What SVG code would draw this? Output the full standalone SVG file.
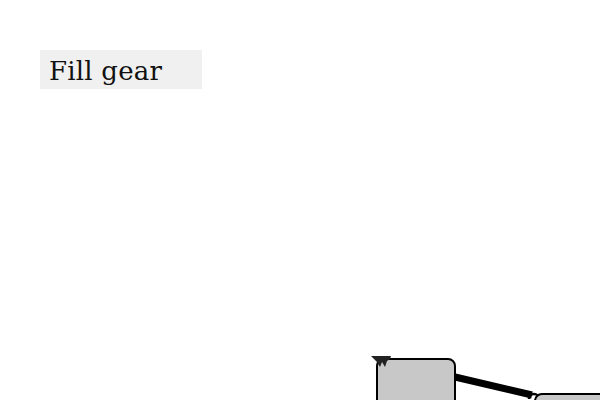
<svg xmlns="http://www.w3.org/2000/svg" width="600" height="400" viewBox="0 0 600 400">
<style>
.node{fill:#c8c8c8;stroke:#000;stroke-width:2}
.lbl{font-family:"DejaVu Serif","Liberation Serif",serif;font-size:26px;fill:#111}
</style>
<rect width="600" height="400" fill="#fff"/>
<g id="title">
<rect x="40" y="50" width="162" height="39" fill="#f0f0f0"/>
<text class="lbl" x="49" y="80" textLength="113">Fill gear</text>
</g>
<g id="connectors">
<line x1="455" y1="377" x2="532" y2="395" stroke="#000" stroke-width="7"/>
<path d="M529 399 A5 5 0 0 1 539 399" fill="none" stroke="#000" stroke-width="2.5"/>
</g>
<g id="node1">
<rect class="node" x="377" y="359" width="78" height="60" rx="7"/>
<path d="M371 356 L391 356 L390 359 L387 361 L385 367 L382 362 L380 367 L377 362 L374 359 Z" fill="#222"/>
</g>
<g id="node2">
<rect class="node" x="535" y="394" width="80" height="40" rx="7"/>
</g>
</svg>
